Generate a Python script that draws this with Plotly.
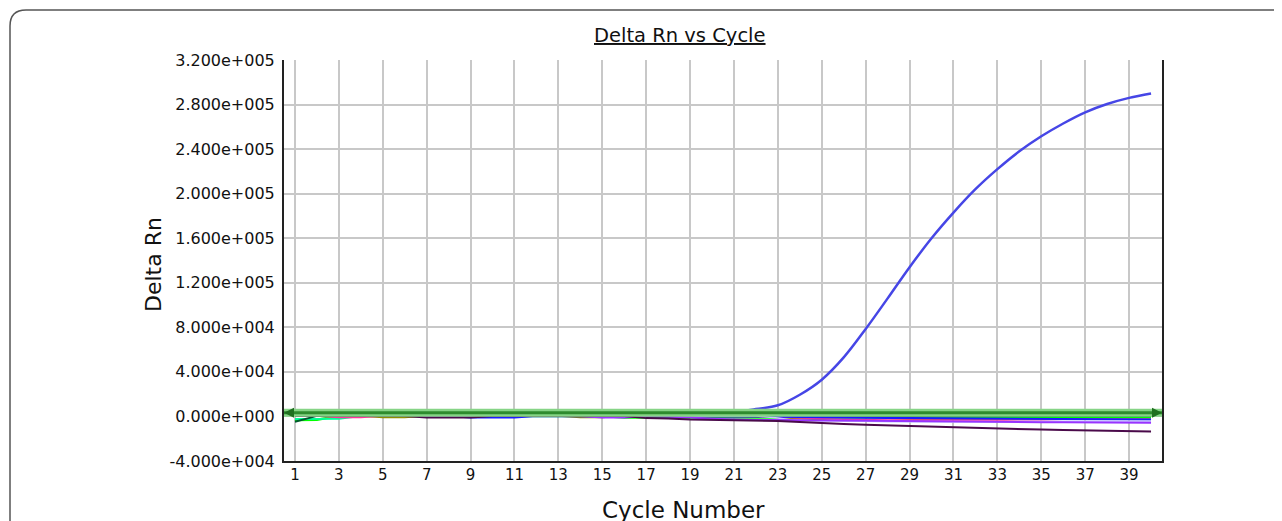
import plotly.graph_objects as go

# ---------------- data ----------------
cycles = list(range(1, 41))

threshold = 3300
x_range = [0.5, 40.5]
y_range = [-40000, 320000]
y_ticks = [-40000, 0, 40000, 80000, 120000, 160000, 200000, 240000, 280000, 320000]
y_tick_labels = ["-4.000e+004", "0.000e+000", "4.000e+004", "8.000e+004", "1.200e+005",
                 "1.600e+005", "2.000e+005", "2.400e+005", "2.800e+005", "3.200e+005"]

amp_blue = [1500, 1500, 1500, 1500, 1500, 1500, 1500, 1500, 1500, 1500,
            1500, 1500, 1500, 1500, 1500, 1500, 1500, 1500, 1800, 2200,
            3500, 6600, 10000, 19500, 33000, 53000, 78500, 106000, 134000, 160000,
            183000, 204000, 222000, 238000, 251500, 263000, 273000, 280500, 286000, 290000]

dark_purple = [500, 500, 500, 500, 500, 500, -1000, -1000, -1000, 500,
               500, 500, 500, 500, 500, 500, -1500, -1800, -2800, -3100,
               -3500, -3900, -4200, -5000, -6200, -6800, -7500, -8100, -8700, -9300,
               -9800, -10300, -10800, -11300, -11800, -12200, -12700, -13100, -13400, -13600]

green = [-3300, -3000, 500, 500, 500, 500, 500, 500, 500, 500,
         500, 500, 500, 500, 500, -1000, -1000, -1000, -1000, -700,
         -700, -700, -700, -700, -700, -700, -700, -700, -700, -700,
         -700, -700, -700, -700, -700, -700, -700, -700, -700, -700]

spring = [-2200, -2200, -2000, 500, 500, 500, 500, 500, 500, 500,
          500, 500, 500, 500, 500, 500, 500, 500, 500, 500,
          500, 500, 500, 500, 500, 500, 500, 500, 500, 500,
          500, 500, 500, 500, 500, 500, 500, 500, 500, 500]

dark_green = [-4800, 500, 500, 500, 500, 500, 500, 500, 500, 500,
              500, 500, 500, 500, 500, 500, 500, 500, 500, 500,
              500, 500, 500, 500, 500, 500, 500, 500, 500, 500,
              500, 500, 500, 500, 500, 500, 500, 500, 500, 500]

magenta = [500, 500, -1000, -1000, 500, 500, 500, 500, 500, 500,
           500, 500, 500, 500, 500, 500, 500, 500, 500, 500,
           500, 0, -500, -1500, -2000, -2500, -3000, -3300, -3300, -3300,
           -3300, -3300, -3300, -3300, -3300, -2500, -2500, -2500, -2500, -2500]

olive = [500, 500, 500, 500, -1000, -1000, 500, 500, 500, 500,
         500, 500, 500, -1000, -1000, 500, 500, 500, 500, 500,
         500, 0, -1000, -2000, -3000, -3900, -3900, -3900, -3000, -2500,
         -2500, -2500, -2500, -2500, -2500, -2500, -2500, -2500, -2500, -2500]

blue = [500, 500, 500, 500, 500, 500, 500, 500, -1000, -1000,
        -1000, 500, 500, 500, 500, 500, 500, 500, 500, 500,
        500, 0, -300, -600, -1000, -1100, -1200, -1300, -1400, -1500,
        -1700, -2000, -2200, -2500, -2700, -2700, -2700, -2700, -2700, -2700]

violet = [500, 500, 500, 500, 500, 500, 500, 500, 500, 500,
          500, 500, 500, 500, -1000, -1000, 500, 0, -1000, -2000,
          -2700, -3300, -3300, -3400, -3500, -3600, -3800, -4000, -4200, -4300,
          -4500, -4700, -4800, -5000, -5100, -5300, -5400, -5500, -5600, -5700]

lavender = [500, 500, 500, 500, 500, 500, 500, 500, 500, 500,
            500, 500, 500, 500, 500, 500, 500, 500, 500, 500,
            500, 500, -1500, -4000, -4000, -4000, -4300, -4700, -5000, -5000,
            -5000, -5000, -5000, -4300, -4300, -4300, -4300, -4300, -4300, -4300]

red = [500, 500, 500, 500, 500, 500, 500, 500, 500, 500,
       500, 500, 500, 500, 500, 500, 500, 500, 500, 500,
       500, 500, 500, 500, 500, 500, 500, 500, 500, 500,
       -300, -300, 500, 500, 500, 500, 500, -300, -300, -300]

series = [
    ("red", red, "#e03c00", 1.5),
    ("green", green, "#00ff00", 2.5),
    ("spring", spring, "#00ff99", 2),
    ("dark green", dark_green, "#005a2d", 2),
    ("olive", olive, "#8c8c00", 1.5),
    ("magenta", magenta, "#ff3399", 1.5),
    ("blue", blue, "#1a1aff", 2),
    ("lavender", lavender, "#c8c8ff", 1.5),
    ("violet", violet, "#9933ff", 2),
    ("dark purple", dark_purple, "#4a0a4a", 2),
    ("amplification", amp_blue, "#4646e6", 2.5),
]

# ---------------- figure ----------------
fig = go.Figure()

for name, vals, color, w in series:
    shape = "spline" if name == "amplification" else "linear"
    fig.add_trace(go.Scatter(x=cycles, y=vals, mode="lines", name=name,
                             line=dict(color=color, width=w, shape=shape),
                             hoverinfo="skip"))

# threshold line (band + dark core + arrowheads)
fig.add_trace(go.Scatter(x=x_range, y=[threshold, threshold], mode="lines",
                         line=dict(color="#86d486", width=8), hoverinfo="skip"))
fig.add_trace(go.Scatter(x=x_range, y=[threshold, threshold], mode="lines",
                         line=dict(color="#2e8b2e", width=3), hoverinfo="skip"))
fig.add_trace(go.Scatter(x=x_range, y=[threshold, threshold], mode="markers",
                         marker=dict(symbol=["arrow-left", "arrow-right"], size=10,
                                     color="#1f6f1f", line=dict(width=0)),
                         cliponaxis=False, hoverinfo="skip"))

# The page body has an 8px margin, so the figure is laid out 8px smaller
OFF = 8
W, H = 1282 - OFF, 521 - OFF
L, R, T, B = 284 - OFF, 1162 - OFF, 60 - OFF, 461 - OFF


def px(xp):
    return (xp - OFF - L) / (R - L)


def py(yp):
    return (B - (yp - OFF)) / (B - T)


font_family = "DejaVu Sans"

fig.update_layout(
    width=W, height=H,
    margin=dict(l=L, r=W - R, t=T, b=H - B),
    paper_bgcolor="white", plot_bgcolor="white",
    showlegend=False,
    font=dict(family=font_family, color="#111111"),
    xaxis=dict(range=x_range, tick0=1, dtick=2, showgrid=True,
               gridcolor="#c8c8c8", gridwidth=2, zeroline=False,
               showline=True, linecolor="#222222", linewidth=2,
               ticks="", ticklabelstandoff=-1,
               tickfont=dict(size=15, family=font_family, color="#111111")),
    yaxis=dict(range=y_range, tickmode="array", tickvals=y_ticks, ticktext=y_tick_labels,
               showgrid=True, gridcolor="#c8c8c8", gridwidth=2, zeroline=False,
               showline=True, linecolor="#222222", linewidth=2, mirror=True,
               ticks="", ticklabelstandoff=4,
               tickfont=dict(size=16, family=font_family, color="#111111")),
    annotations=[
        dict(text="<u>Delta Rn vs Cycle</u>", x=px(680), y=py(36), xref="paper", yref="paper",
             showarrow=False, xanchor="center", yanchor="middle",
             font=dict(size=19.5, family=font_family, color="#111111")),
        dict(text="Cycle Number", x=px(683), y=py(510), xref="paper", yref="paper",
             showarrow=False, xanchor="center", yanchor="middle",
             font=dict(size=23, family=font_family, color="#111111")),
        dict(text="Delta Rn", x=px(153), y=py(265), xref="paper", yref="paper",
             showarrow=False, xanchor="center", yanchor="middle", textangle=-90,
             font=dict(size=22, family=font_family, color="#111111")),
    ],
    shapes=[
        dict(type="path", xref="paper", yref="paper",
             path=(f"M {px(10)},{py(540)} L {px(10)},{py(26)} "
                   f"Q {px(10)},{py(10)} {px(26)},{py(10)} L {px(1300)},{py(10)}"),
             line=dict(color="#555555", width=1.5)),
    ],
)

fig.write_html("out.html")
